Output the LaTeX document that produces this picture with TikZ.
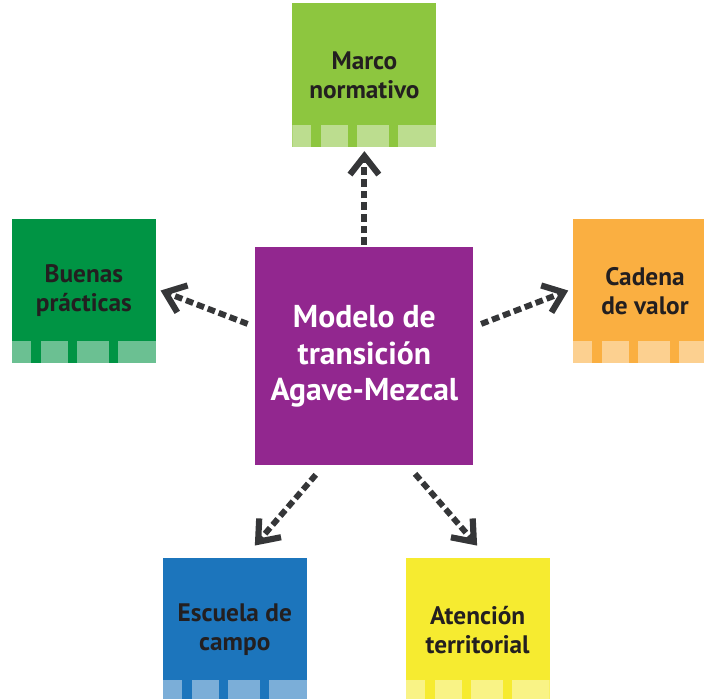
\documentclass[tikz,border=0pt]{standalone}
\usepackage{fontspec}
\setmainfont{PT Sans}
\usepackage{tikz}
\usetikzlibrary{arrows.meta,positioning}

\definecolor{lgreen}{HTML}{8DC63F}
\definecolor{dgreen}{HTML}{009444}
\definecolor{orng}{HTML}{FAAF41}
\definecolor{blu}{HTML}{1C75BC}
\definecolor{yllw}{HTML}{F6EB30}
\definecolor{purp}{HTML}{92278F}
\definecolor{ink}{HTML}{231F20}
\definecolor{arrgray}{HTML}{353638}

\begin{document}
\begin{tikzpicture}[
    font=\bfseries,
    box/.style={minimum width=3.6cm, minimum height=3.6cm, align=center, inner sep=0pt, text=ink,
      font=\fontsize{18pt}{20.6pt}\selectfont\bfseries,
      path picture={
        \foreach \a/\b in {0/0.475,0.725/1.4,1.625/2.425,2.65/3.6}
          \fill[white, opacity=0.42] ([xshift=\a cm]path picture bounding box.south west)
            rectangle ([xshift=\b cm, yshift=0.55cm]path picture bounding box.south west);
      }},
    hub/.style={minimum width=5.45cm, minimum height=5.45cm, align=center, inner sep=0pt, fill=purp, text=white,
      font=\fontsize{22.5pt}{25.8pt}\selectfont\bfseries},
    arr/.style={-{Straight Barb[length=4.6mm, width=7.2mm, line width=4.4pt]}, line width=4.2pt, draw=arrgray,
      dash pattern=on 5.5pt off 2.8pt}
  ]
    \useasboundingbox (0,0) rectangle (17.6,-17.45);
    \clip (0,0) rectangle (17.6,-17.45);

    \node[hub] (M) at (9.11,-8.91) {Modelo de\\transición\\Agave-Mezcal};
    \node[box, fill=lgreen, above=2.5cm of M] (MN) {Marco\\normativo};
    \node[box, fill=dgreen, left=2.475cm of M, yshift=1.64cm] (BP) {Buenas\\prácticas};
    \node[box, fill=orng, right=2.475cm of M, yshift=1.64cm] (CV) {Cadena\\de valor};
    \node[box, fill=blu, below=2.3cm of M, xshift=-3.24cm] (EC) {Escuela de\\campo};
    \node[box, fill=yllw, below=2.3cm of M, xshift=2.83cm] (AT) {Atención\\territorial};

    \draw[arr, shorten <=0.05cm, shorten >=0.1cm] (M) -- (MN);
    \draw[arr, shorten <=0.2cm, shorten >=0.12cm] ([yshift=0.74cm]M.west) -- ([yshift=0.05cm]BP.east);
    \draw[arr, shorten <=0.2cm, shorten >=0.12cm] ([yshift=0.74cm]M.east) -- ([yshift=0.05cm]CV.west);
    \draw[arr, shorten <=0.3cm, shorten >=0.4cm] ([xshift=-1.02cm]M.south) -- ([xshift=0.24cm]EC.north);
    \draw[arr, shorten <=0.27cm, shorten >=0.4cm] ([xshift=1.09cm]M.south) -- ([xshift=0.25cm]AT.north);
  \end{tikzpicture}
\end{document}
